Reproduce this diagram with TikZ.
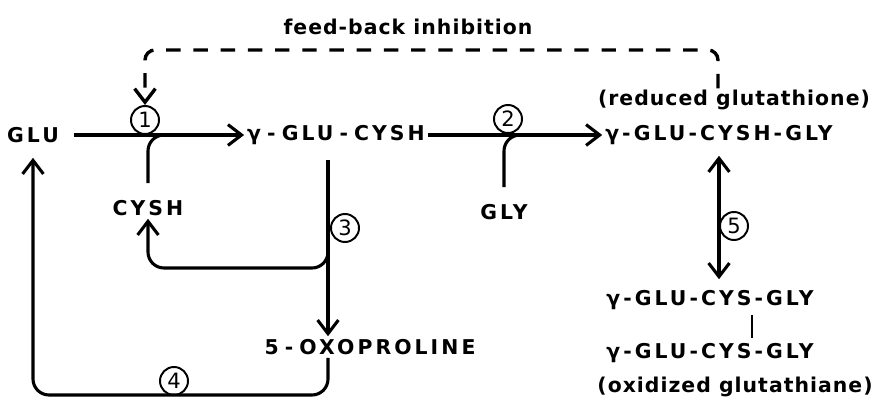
\documentclass[tikz,border=0pt]{standalone}
\usepackage{fontspec}
\setmainfont{DejaVu Sans}
\newfontfamily\capsfont{DejaVu Sans}[LetterSpace=15]
\newfontfamily\notefont{DejaVu Sans}[LetterSpace=5]
\usetikzlibrary{arrows.meta,calc,positioning}
\newcommand\hy{\kern.3em-\kern.3em}
\tikzset{
  >={Straight Barb[length=3.4mm,width=5.2mm]},
  flow/.style={->, line width=2.2pt, rounded corners=4mm},
  both flow/.style={<->, line width=2.2pt},
  link/.style={line width=2.2pt, rounded corners=4mm, shorten <=3.5mm},
  inhibit/.style={->, line width=2.4pt, dash pattern=on 3.6mm off 3.2mm,
    rounded corners=2.5mm},
  compound/.style={font=\capsfont\bfseries\fontsize{14.5}{16}\selectfont,
    inner sep=2pt},
  caption text/.style={font=\notefont\bfseries\fontsize{14.5}{16}\selectfont,
    inner sep=1pt},
  enzyme/.style={circle, draw, line width=1.4pt, minimum size=7mm,
    inner sep=0pt, font=\fontsize{15}{15}\selectfont},
  bond/.style={line width=1.4pt}
}
\begin{document}
\begin{tikzpicture}[x=0.025cm,y=-0.025cm]
  \useasboundingbox (0,0) rectangle (875,401);
  \node[caption text] (fb) at (408,27) {feed-back inhibition};
  \node[compound] (glu) at (33,135) {GLU};
  \node[compound] (gc) at (336,135) {γ\hy GLU\hy CYSH};
  \node[compound] (gsh) at (719,135) {γ-GLU-CYSH-GLY};
  \node[caption text] (red) at (734,100) {(reduced glutathione)};
  \node[compound] (cysh) at (148,208) {CYSH};
  \node[compound] (gly) at (504,212) {GLY};
  \node[compound] (oxo) at (370,347) {5\hy OXOPROLINE};
  \node[compound] (gssg1) at (710,300) {γ-GLU-CYS-GLY};
  \node[compound] (gssg2) at (710,353) {γ-GLU-CYS-GLY};
  \node[caption text] (ox) at (735,387) {(oxidized glutathiane)};

  \node[enzyme] (e1) at (145,120) {1};
  \node[enzyme] (e2) at (508,119) {2};
  \node[enzyme] (e3) at (345,228) {3};
  \node[enzyme] (e4) at (174,381) {4};
  \node[enzyme] (e5) at (734,226) {5};

  \coordinate (m1) at (184,135);
  \coordinate (m2) at (544,135);
  \coordinate (split) at (328,236);
  \coordinate (back) at (230,268);
  \coordinate (bottom) at (175,395);
  \coordinate (top) at (430,50);

  \draw[flow, shorten <=3mm] (glu) -- (gc);
  \draw[link] (cysh.north) |- (m1);
  \draw[flow] (gc) -- (gsh);
  \draw[link] (gly.north) |- (m2);
  \draw[both flow, shorten <=2mm, shorten >=2mm]
    (gsh.south) -- (gsh.south |- gssg1.north);
  \draw[flow, shorten <=3mm] (gc.south -| split) -- (oxo.north -| split);
  \draw[flow] (split) |- (back) -| (cysh.south);
  \draw[flow, shorten >=3mm] (oxo.south -| split) |- (bottom) -| (glu.south);
  \draw[inhibit] ($(red.north)+(-16,0)$) |- (top) -| (e1.north);
  \draw[bond] ($(gssg1.south)+(42,2)$) -- ($(gssg2.north)+(42,-2)$);
\end{tikzpicture}
\end{document}
